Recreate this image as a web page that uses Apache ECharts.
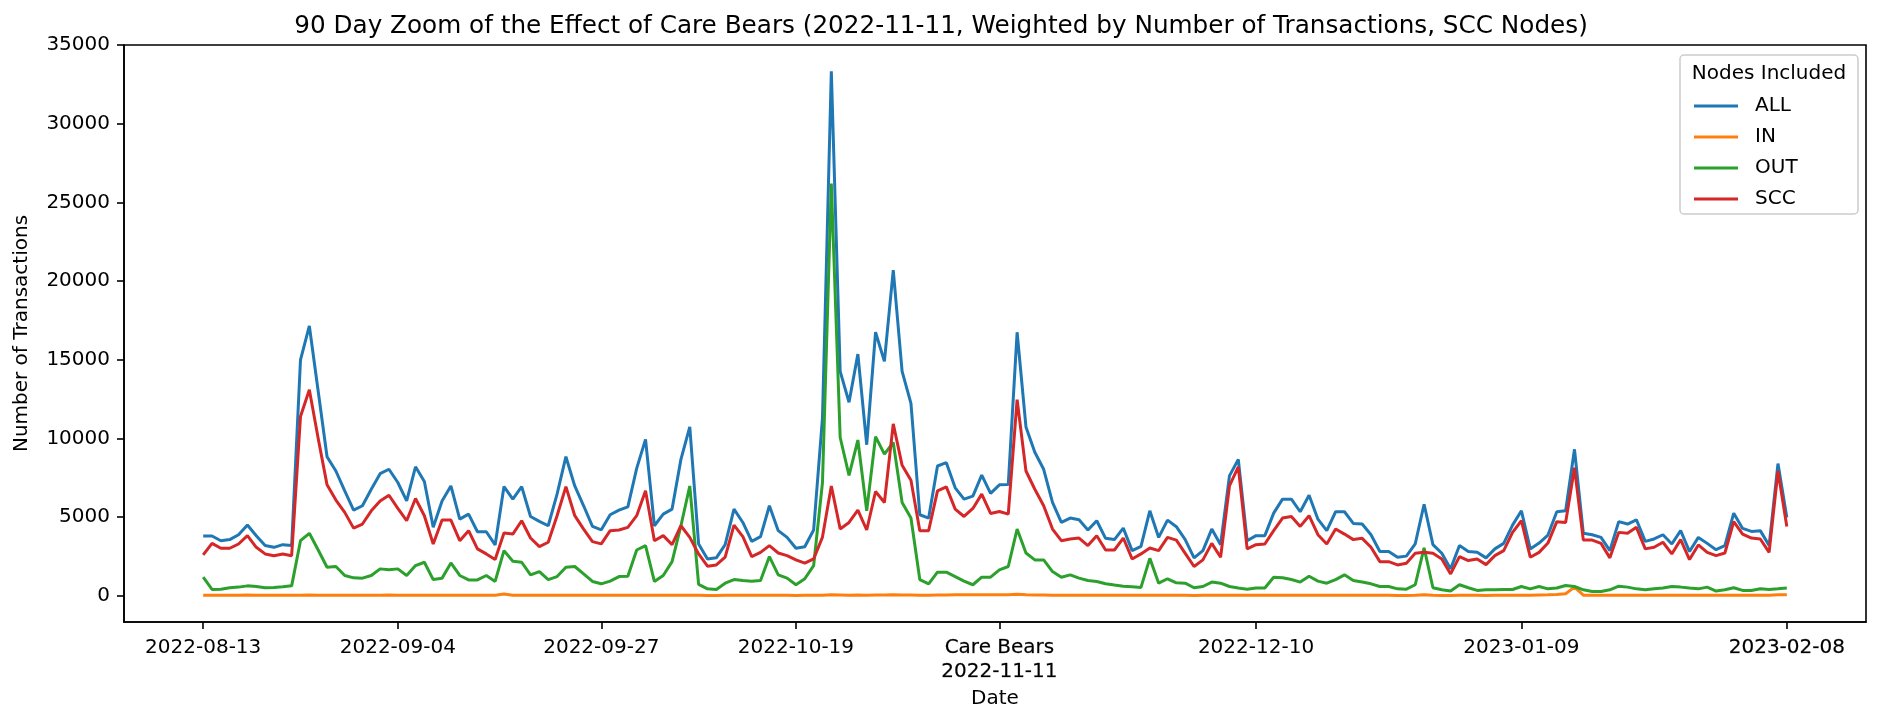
<!DOCTYPE html>
<html>
<head>
<meta charset="utf-8">
<title>90 Day Zoom of the Effect of Care Bears</title>
<script src="https://cdn.jsdelivr.net/npm/echarts@6.0.0/dist/echarts.min.js"></script>
<style>
    html, body { margin: 0; padding: 0; background: #ffffff; }
    #care-bears-zoom { width: 1882px; height: 725px; }
</style>
</head>
<body>
<div id="care-bears-zoom"></div>
<script>
// day 0 is 2022-08-13, the event (Care Bears) is day 90
const startDate = '2022-08-13';
const eventDay = 90;
const eventName = 'Care Bears';
const seriesNames = ['ALL', 'IN', 'OUT', 'SCC'];
const tickDays = [0, 22, 45, 67, 90, 119, 149, 179];
const yTicks = [0, 5000, 10000, 15000, 20000, 25000, 30000, 35000];

const allNodes = [
    3800, 3800, 3500, 3570, 3880, 4500, 3820, 3190, 3080, 3250,
    3190, 15000, 17150, 13000, 8840, 7930, 6670, 5440, 5720, 6770,
    7760, 8040, 7200, 6030, 8200, 7260, 4350, 6030, 6980, 4870,
    5190, 4070, 4070, 3230, 6940, 6140, 6940, 5040, 4730, 4450,
    6460, 8840, 6980, 5720, 4410, 4190, 5150, 5440, 5650, 8100,
    9940, 4450, 5190, 5510, 8670, 10740, 3290, 2340, 2410, 3250,
    5510, 4660, 3460, 3760, 5720, 4140, 3710, 3020, 3120, 4180,
    11300, 33340, 14260, 12300, 15360, 9600, 16750, 14900, 20700, 14260,
    12230, 5150, 4940, 8250, 8460, 6860, 6140, 6330, 7670, 6510,
    7050, 7070, 16750, 10730, 9120, 8040, 5930, 4660, 4940, 4830,
    4180, 4770, 3650, 3570, 4300, 2870, 3140, 5400, 3710, 4810,
    4390, 3570, 2410, 2870, 4240, 3250, 7620, 8670, 3500, 3820,
    3820, 5250, 6140, 6140, 5340, 6390, 4870, 4140, 5340, 5340,
    4600, 4560, 3880, 2810, 2810, 2450, 2520, 3300, 5820, 3250,
    2700, 1710, 3190, 2810, 2760, 2410, 2980, 3330, 4490, 5400,
    2980, 3350, 3860, 5340, 5400, 9310, 3970, 3880, 3710, 2870,
    4710, 4560, 4830, 3460, 3610, 3880, 3290, 4140, 2810, 3710,
    3330, 2930, 3190, 5250, 4280, 4090, 4140, 3190, 8400, 4980
];

const inNodes = [
    40, 30, 30, 40, 40, 50, 40, 30, 30, 40,
    30, 40, 50, 40, 30, 30, 40, 30, 30, 40,
    40, 50, 40, 30, 40, 40, 30, 30, 40, 30,
    30, 30, 40, 30, 110, 40, 30, 30, 40, 30,
    40, 30, 40, 30, 30, 30, 40, 30, 30, 40,
    40, 30, 30, 40, 30, 40, 30, 20, 20, 30,
    40, 30, 30, 30, 40, 30, 30, 20, 30, 30,
    40, 60, 50, 40, 50, 40, 50, 50, 60, 50,
    50, 40, 40, 50, 50, 60, 60, 70, 70, 60,
    70, 60, 100, 60, 50, 50, 40, 40, 40, 40,
    30, 30, 30, 30, 30, 30, 30, 40, 30, 30,
    30, 30, 20, 30, 30, 30, 40, 40, 30, 30,
    30, 40, 40, 40, 30, 40, 30, 30, 40, 40,
    30, 40, 30, 30, 30, 20, 20, 30, 60, 30,
    20, 20, 30, 30, 30, 20, 30, 30, 40, 40,
    40, 50, 60, 80, 130, 550, 40, 30, 30, 30,
    30, 30, 30, 30, 30, 30, 30, 30, 30, 30,
    30, 30, 30, 30, 30, 30, 30, 30, 70, 70
];

const outNodes = [
    1180, 400, 420, 510, 550, 630, 590, 510, 530, 570,
    630, 3500, 3970, 2910, 1810, 1860, 1290, 1140, 1120, 1290,
    1710, 1650, 1710, 1290, 1920, 2130, 1030, 1120, 2090, 1290,
    1010, 1010, 1290, 910, 2870, 2190, 2130, 1330, 1540, 1030,
    1220, 1810, 1860, 1390, 910, 760, 930, 1220, 1240, 2910,
    3190, 910, 1290, 2170, 4450, 6980, 720, 440, 400, 800,
    1030, 970, 930, 970, 2490, 1330, 1120, 700, 1080, 1920,
    7200, 26200, 10060, 7650, 9900, 5400, 10120, 9000, 9740, 5930,
    4940, 1030, 760, 1500, 1500, 1220, 930, 700, 1180, 1180,
    1650, 1860, 4240, 2720, 2280, 2280, 1540, 1180, 1330, 1120,
    970, 910, 760, 680, 610, 570, 530, 2380, 800, 1080,
    820, 800, 510, 590, 870, 800, 590, 490, 420, 490,
    490, 1180, 1140, 1030, 870, 1240, 930, 800, 1030, 1330,
    970, 870, 760, 590, 590, 440, 420, 700, 3040, 510,
    380, 300, 700, 510, 340, 380, 380, 400, 400, 590,
    440, 590, 440, 490, 650, 590, 380, 270, 270, 380,
    610, 550, 440, 380, 440, 490, 590, 550, 490, 440,
    550, 300, 380, 510, 340, 340, 440, 400, 440, 490
];

const sccNodes = [
    2600, 3330, 3020, 3020, 3290, 3820, 3080, 2660, 2550, 2660,
    2550, 11400, 13100, 10000, 7050, 6080, 5300, 4300, 4560, 5400,
    6030, 6390, 5550, 4770, 6180, 5090, 3290, 4810, 4810, 3500,
    4140, 2980, 2660, 2300, 3990, 3920, 4770, 3670, 3120, 3400,
    5090, 6940, 5090, 4240, 3440, 3300, 4140, 4180, 4350, 5090,
    6670, 3500, 3820, 3250, 4450, 3710, 2660, 1880, 1960, 2450,
    4490, 3760, 2490, 2760, 3190, 2720, 2550, 2280, 2070, 2340,
    3730, 6980, 4240, 4660, 5440, 4180, 6630, 5930, 10930, 8290,
    7340, 4140, 4140, 6670, 6920, 5510, 5040, 5550, 6460, 5230,
    5360, 5190, 12470, 7930, 6770, 5720, 4240, 3500, 3610, 3670,
    3190, 3820, 2910, 2910, 3670, 2340, 2660, 3040, 2870, 3710,
    3540, 2700, 1860, 2280, 3330, 2450, 6980, 8190, 2980, 3250,
    3290, 4140, 4940, 5040, 4410, 5090, 3880, 3290, 4240, 3920,
    3570, 3650, 3080, 2170, 2170, 1960, 2070, 2700, 2760, 2700,
    2340, 1390, 2490, 2240, 2340, 1980, 2550, 2870, 4030, 4770,
    2450, 2760, 3350, 4710, 4660, 8140, 3540, 3540, 3330, 2410,
    4030, 3970, 4350, 2980, 3080, 3400, 2660, 3570, 2300, 3230,
    2760, 2550, 2720, 4710, 3920, 3670, 3610, 2760, 7930, 4410
];

const colors = ['#1f77b4', '#ff7f0e', '#2ca02c', '#d62728'];

function dayToDate(day) {
    const t = Date.parse(startDate + 'T00:00:00Z') + day * 86400000;
    return new Date(t).toISOString().slice(0, 10);
}

function toPoints(values) {
    return values.map((v, i) => [i, v]);
}

function careBearsZoomChart() {
    const chart = echarts.init(document.getElementById('care-bears-zoom'), null, { renderer: 'canvas' });
    const font = 'DejaVu Sans';
    const lastDay = allNodes.length - 1;
    const pad = lastDay * 0.05;
    const yMax = 33340;

    var option = {
        animation: false,
        backgroundColor: '#ffffff',
        textStyle: { fontFamily: font, color: '#000' },
        title: {
            text: '90 Day Zoom of the Effect of Care Bears (2022-11-11, Weighted by Number of Transactions, SCC Nodes)',
            left: 'center',
            top: 9,
            textStyle: { fontFamily: font, fontSize: 24.7, fontWeight: 'normal', color: '#000' }
        },
        grid: {
            left: 124,
            right: 16,
            top: 45,
            bottom: 103,
            show: true,
            borderColor: '#000',
            borderWidth: 1.6,
            backgroundColor: 'transparent'
        },
        legend: {
            data: seriesNames,
            orient: 'vertical',
            left: 1694,
            top: 96,
            z: 100,
            padding: 0,
            itemWidth: 44,
            itemHeight: 3,
            itemGap: 11,
            icon: 'rect',
            textStyle: { fontFamily: font, fontSize: 20, lineHeight: 20, color: '#000', padding: [0, 0, 0, 12] }
        },
        graphic: [
            {
                type: 'rect',
                z: 1,
                shape: { x: 1680, y: 55, width: 178, height: 159, r: 4 },
                style: { fill: 'rgba(255,255,255,0.8)', stroke: '#cccccc', lineWidth: 1.5 }
            },
            {
                type: 'text',
                z: 101,
                x: 1769,
                y: 74,
                style: {
                    text: 'Nodes Included',
                    font: '20px "DejaVu Sans"',
                    fill: '#000',
                    align: 'center',
                    verticalAlign: 'middle',
                    textAlign: 'center',
                    textVerticalAlign: 'middle'
                }
            }
        ],
        xAxis: {
            type: 'value',
            min: -pad,
            max: lastDay + pad,
            name: 'Date',
            nameLocation: 'middle',
            nameGap: 66,
            nameTextStyle: { fontFamily: font, fontSize: 20, color: '#000' },
            splitLine: { show: false },
            axisLine: { show: true, onZero: false, lineStyle: { color: '#000', width: 1.6 } },
            axisTick: { show: true, length: 7, lineStyle: { color: '#000', width: 1.6 }, customValues: tickDays },
            axisLabel: {
                customValues: tickDays,
                margin: 14,
                fontFamily: font,
                fontSize: 20,
                lineHeight: 24,
                color: '#000',
                formatter: function (value) {
                    const day = Math.round(value);
                    const label = dayToDate(day);
                    // these two labels are drawn twice in the original, so they look heavier
                    if (day === eventDay) {
                        return '{b|' + eventName + '}\n{b|' + label + '}';
                    }
                    if (day === lastDay) {
                        return '{b|' + label + '}';
                    }
                    return label;
                },
                rich: {
                    b: {
                        fontFamily: font,
                        fontSize: 20,
                        lineHeight: 24,
                        color: '#000',
                        textBorderColor: 'rgba(0,0,0,0.6)',
                        textBorderWidth: 0.3
                    }
                }
            }
        },
        yAxis: {
            type: 'value',
            min: -yMax * 0.05,
            max: yMax * 1.05,
            name: 'Number of Transactions',
            nameLocation: 'middle',
            nameGap: 92,
            nameTextStyle: { fontFamily: font, fontSize: 20, color: '#000' },
            splitLine: { show: false },
            axisLine: { show: true, onZero: false, lineStyle: { color: '#000', width: 1.6 } },
            axisTick: { show: true, length: 7, lineStyle: { color: '#000', width: 1.6 }, customValues: yTicks },
            axisLabel: {
                customValues: yTicks,
                margin: 14,
                fontFamily: font,
                fontSize: 20,
                color: '#000',
                formatter: function (value) { return String(value); }
            }
        },
        series: [
            { name: 'ALL', data: toPoints(allNodes) },
            { name: 'IN', data: toPoints(inNodes) },
            { name: 'OUT', data: toPoints(outNodes) },
            { name: 'SCC', data: toPoints(sccNodes) }
        ].map((s, i) => ({
            name: s.name,
            type: 'line',
            data: s.data,
            showSymbol: false,
            symbol: 'none',
            color: colors[i],
            lineStyle: { color: colors[i], width: 3 },
            emphasis: { disabled: true }
        }))
    };

    option && chart.setOption(option);
}

careBearsZoomChart();
</script>
</body>
</html>
